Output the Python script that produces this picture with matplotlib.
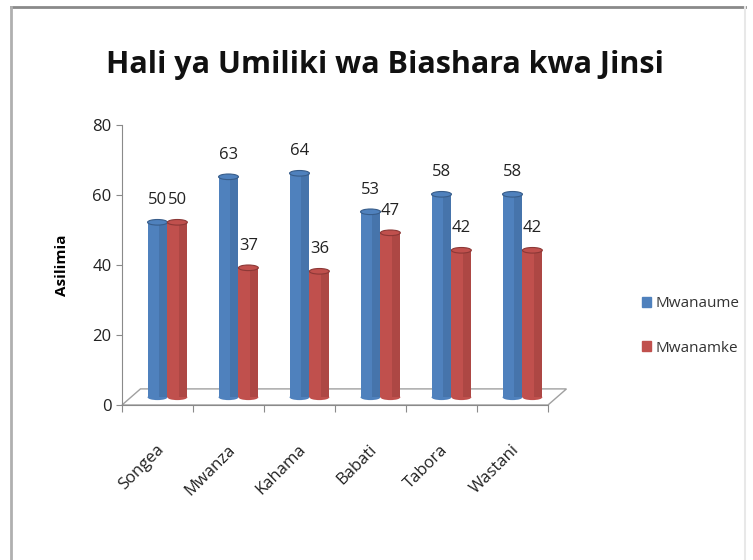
import matplotlib.pyplot as plt
from matplotlib.patches import Polygon, Ellipse
from matplotlib.lines import Line2D

categories = ['Songea', 'Mwanza', 'Kahama', 'Babati', 'Tabora', 'Wastani']
mwanaume = [50, 63, 64, 53, 58, 58]
mwanamke = [50, 37, 36, 47, 42, 42]
series_names = ['Mwanaume', 'Mwanamke']
yticks = [0, 20, 40, 60, 80]

blue = '#4F81BD'
red = '#C0504D'
dark_blue = '#385D8A'
dark_red = '#8C3836'

fig = plt.figure(figsize=(7.53, 5.60), dpi=100)
fig.patch.set_facecolor('white')

# frame lines around the chart area
fig.add_artist(Line2D([11/753, 745/753], [1 - 6.5/560, 1 - 6.5/560], color='#8a8a8a', lw=2))
fig.add_artist(Line2D([11/753, 11/753], [0, 1 - 6.5/560], color='#b0b0b0', lw=2))
fig.add_artist(Line2D([745/753, 745/753], [0, 1 - 6.5/560], color='#e8e8e8', lw=1.5))

ax = fig.add_axes([122/753, 1 - 405/560, 426/753, 280/560])
ax.set_xlim(-0.5, len(categories) - 0.5)
ax.set_ylim(0, 80)

# 3D-ish floor
depth_x, depth_y = 0.26, 4.6
floor = Polygon([(-0.5, 0), (len(categories) - 0.5, 0),
                 (len(categories) - 0.5 + depth_x, depth_y), (-0.5 + depth_x, depth_y)],
                closed=True, facecolor='none', edgecolor='#a0a0a0', lw=1, clip_on=False)
ax.add_patch(floor)

w = 0.28
lift = 2.2
for i, (m, f) in enumerate(zip(mwanaume, mwanamke)):
    for xc, v, c, dc in [(i, m, blue, dark_blue), (i + w, f, red, dark_red)]:
        ax.bar(xc, v, width=w, bottom=lift, color=c, edgecolor='none', zorder=3)
        # darker right side for cylinder look
        ax.bar(xc + w * 0.3, v, width=w * 0.4, bottom=lift, color=dc, alpha=0.35,
               edgecolor='none', zorder=3)
        ax.add_patch(Ellipse((xc, lift + v), w, 1.6, facecolor=c, edgecolor=dc,
                             lw=0.8, zorder=4))
        ax.add_patch(Ellipse((xc, lift), w, 1.6, facecolor=c, edgecolor='none', zorder=2))

for i, (m, f) in enumerate(zip(mwanaume, mwanamke)):
    ax.text(i, m + 8.5, str(m), ha='center', va='center', fontsize=12,
            family='Open Sans', color='#222222', zorder=5)
    ax.text(i + w, f + 8.5, str(f), ha='center', va='center', fontsize=12,
            family='Open Sans', color='#222222', zorder=5)

for side in ['top', 'right']:
    ax.spines[side].set_visible(False)
ax.spines['left'].set_color('#8a8a8a')
ax.spines['bottom'].set_color('#8a8a8a')

ax.set_yticks(yticks)
ax.set_yticklabels([str(t) for t in yticks], fontsize=12, family='Open Sans', color='#222222')
ax.set_xticks([i - 0.5 for i in range(len(categories) + 1)])
ax.set_xticklabels([''] * (len(categories) + 1))
ax.tick_params(axis='x', length=5, color='#8a8a8a', direction='out')
ax.tick_params(axis='y', length=4, color='#8a8a8a', direction='out')

for i, name in enumerate(categories):
    ax.text(i - 0.02, -10.5, name, rotation=45, ha='right', va='top', rotation_mode='anchor',
            fontsize=12, family='Open Sans', color='#222222')

ax.set_ylabel('Asilimia', fontsize=11, fontweight='bold', family='Open Sans')
ax.yaxis.set_label_coords(-0.125, 0.5)

fig.text(385/753, 1 - 65/560, 'Hali ya Umiliki wa Biashara kwa Jinsi', ha='center', va='center',
         fontsize=22, family='Open Sans', fontweight='bold', color='#111111')

handles = [plt.Rectangle((0, 0), 1, 1, color=blue), plt.Rectangle((0, 0), 1, 1, color=red)]
fig.legend(handles, series_names, loc='center left', bbox_to_anchor=(628/753, 1 - 326/560),
           frameon=False, handlelength=0.6, handleheight=0.6, handletextpad=0.3,
           labelspacing=1.9, prop={'family': 'Open Sans', 'size': 11})
for t in fig.legends[0].get_texts():
    t.set_color('#333333')

fig.savefig('out.png', dpi=100)
